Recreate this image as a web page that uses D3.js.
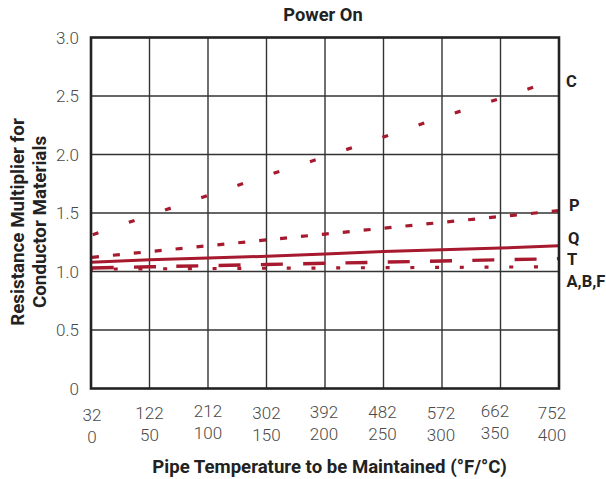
<!DOCTYPE html>
<html>
<head>
<meta charset="utf-8">
<script src="https://cdn.jsdelivr.net/npm/d3@7"></script>
<style>
  html, body { margin: 0; padding: 0; background: #fff; }
  svg { display: block; font-family: Roboto, "Noto Sans", sans-serif; }
</style>
</head>
<body>
<svg id="chart" width="606" height="479"></svg>
<script>
// ---- data ----
const tempF = [32, 122, 212, 302, 392, 482, 572, 662, 752];
const tempC = [0, 50, 100, 150, 200, 250, 300, 350, 400];
const yTicks = [0, 0.5, 1.0, 1.5, 2.0, 2.5, 3.0];
const yTickLabels = ["0", "0.5", "1.0", "1.5", "2.0", "2.5", "3.0"];
const seriesNames = ["C", "P", "Q", "T", "A,B,F"];
const valuesC = [1.31, 1.48, 1.65, 1.82, 1.98, 2.15, 2.32, 2.48, 2.65];
const valuesP = [1.12, 1.17, 1.22, 1.27, 1.32, 1.37, 1.42, 1.47, 1.52];
const valuesQ = [1.08, 1.10, 1.115, 1.13, 1.15, 1.17, 1.185, 1.20, 1.22];
const valuesT = [1.03, 1.04, 1.05, 1.06, 1.07, 1.08, 1.09, 1.10, 1.11];
const valuesABF = [1.02, 1.023, 1.025, 1.028, 1.03, 1.033, 1.035, 1.038, 1.04];
const title = "Power On";
const xTitle = "Pipe Temperature to be Maintained (°F/°C)";
const yTitle = ["Resistance Multiplier for", "Conductor Materials"];

// ---- layout ----
const L = 91, R = 559, T = 37.5, B = 388.5;
const red = "#a6192e";
const svg = d3.select("#chart");

const x = d3.scaleLinear().domain([32, 752]).range([L, R]);
const y = d3.scaleLinear().domain([0, 3]).range([B, T]);

// grid
const g = svg.append("g");
g.selectAll("line.v").data(tempF.slice(1, -1)).join("line")
  .attr("x1", d => x(d)).attr("x2", d => x(d))
  .attr("y1", T).attr("y2", B)
  .attr("stroke", "#333").attr("stroke-width", 1.4);
g.selectAll("line.h").data(yTicks.slice(1, -1)).join("line")
  .attr("x1", L).attr("x2", R)
  .attr("y1", d => y(d)).attr("y2", d => y(d))
  .attr("stroke", "#333").attr("stroke-width", 1.4);

// series
const line = d3.line().x(d => x(d[0])).y(d => y(d[1]));
const series = [
  { vals: valuesABF, dash: "4,20.72", off: 2.0, w: 3.2 },
  { vals: valuesT, dash: "22,20.3", off: -0.7, w: 3.4 },
  { vals: valuesQ, dash: null, off: 0, w: 3 },
  { vals: valuesP, dash: "7,14", off: -1, w: 3.2 },
  { vals: valuesC, dash: "6,32.2", off: -1.8, w: 3.2 }
];
series.forEach(s => {
  const p = svg.append("path")
    .datum(tempF.map((t, i) => [t, s.vals[i]]))
    .attr("d", line)
    .attr("fill", "none")
    .attr("stroke", red)
    .attr("stroke-width", s.w);
  if (s.dash) p.attr("stroke-dasharray", s.dash).attr("stroke-dashoffset", s.off);
});

// frame
svg.append("rect").attr("x", L).attr("y", T).attr("width", R - L).attr("height", B - T)
  .attr("fill", "none").attr("stroke", "#222").attr("stroke-width", 2.6);

// y tick labels
svg.append("g").selectAll("text").data(yTicks).join("text")
  .attr("x", 79).attr("y", d => y(d)).attr("dy", "0.36em")
  .attr("text-anchor", "end")
  .attr("font-size", 17).attr("font-weight", 300).attr("fill", "#4a4a4a")
  .text((d, i) => yTickLabels[i]);

// x tick labels
const xNudge = [1, 0, 0, 0, -1, -1, -1, -5.5, -7];
const yNudge = [3, 0.5, -1, 0.5, 0, 0, 0.5, -1, 0.5];
const xt = svg.append("g").selectAll("g").data(tempF).join("g")
  .attr("transform", (d, i) => `translate(${x(d) + xNudge[i]},${yNudge[i]})`);
xt.append("text").attr("y", 412).attr("dy", "0.36em")
  .attr("text-anchor", "middle").attr("font-size", 17).attr("font-weight", 300).attr("fill", "#4a4a4a")
  .text(d => d);
xt.append("text").attr("y", 434).attr("dy", "0.36em")
  .attr("text-anchor", "middle").attr("font-size", 17).attr("font-weight", 300).attr("fill", "#4a4a4a")
  .text((d, i) => tempC[i]);

// titles
svg.append("text").attr("x", 323).attr("y", 14).attr("dy", "0.36em")
  .attr("text-anchor", "middle").attr("font-size", 18.3).attr("font-weight", 700).attr("fill", "#222")
  .text(title);
svg.append("text").attr("x", 329.5).attr("y", 466).attr("dy", "0.36em")
  .attr("text-anchor", "middle").attr("font-size", 18.6).attr("font-weight", 700).attr("fill", "#222")
  .text(xTitle);
svg.append("g").attr("transform", "translate(0,222) rotate(-90)")
  .selectAll("text").data(yTitle).join("text")
  .attr("x", 0).attr("y", (d, i) => i === 0 ? 17.5 : 39.5).attr("dy", "0.36em")
  .attr("text-anchor", "middle").attr("font-size", 18.8).attr("font-weight", 700).attr("fill", "#222")
  .text(d => d);

// series labels
const labelY = [81.5, 205, 238.5, 259.5, 281];
const labelX = [566, 569, 568, 567, 566.5];
svg.append("g").selectAll("text").data(seriesNames).join("text")
  .attr("x", (d, i) => labelX[i]).attr("y", (d, i) => labelY[i]).attr("dy", "0.36em")
  .attr("font-size", 16.5).attr("font-weight", 700).attr("fill", "#222")
  .text(d => d);
</script>
</body>
</html>
